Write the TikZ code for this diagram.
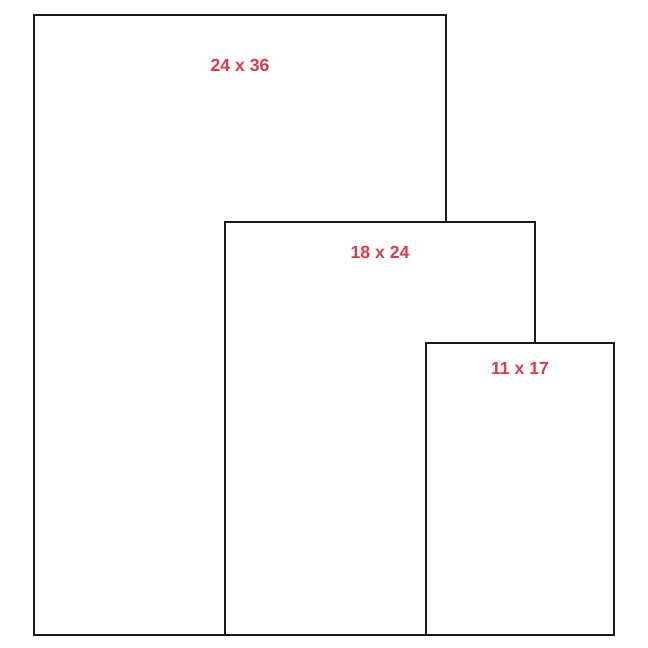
\documentclass[tikz,border=0pt]{standalone}
\usepackage{fontspec}
\setmainfont{Liberation Sans}
\definecolor{labelred}{RGB}{220,60,75}
\begin{document}
\begin{tikzpicture}[x=1pt,y=-1pt,
  sheet/.style={draw=black!90,fill=white,line width=1.25pt},
  sizelabel/.style={text=labelred,font=\bfseries\fontsize{17.6}{19}\selectfont,inner sep=0pt}]
\useasboundingbox (0,0) rectangle (648,648);
\path[sheet] (34,15) rectangle (446,635);
\node[sizelabel] (l1) at (240,65.5) {24 x 36};
\path[sheet] (225,222) rectangle (535,635);
\node[sizelabel] (l2) at (380,252.5) {18 x 24};
\path[sheet] (426,343) rectangle (614,635);
\node[sizelabel] (l3) at (520,368.5) {11 x 17};
\end{tikzpicture}
\end{document}
